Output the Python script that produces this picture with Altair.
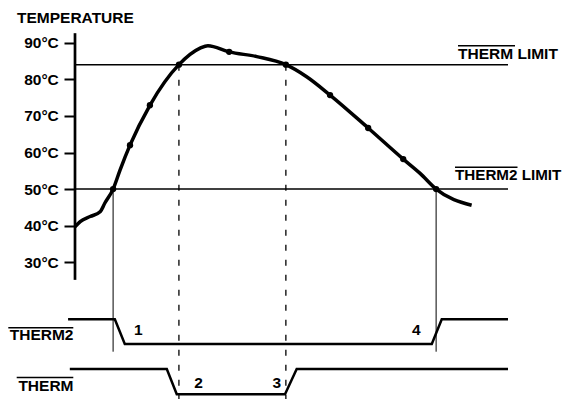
import altair as alt
import pandas as pd

FONT = "Liberation Sans"

# ---------------- data ----------------
# temperature curve: time (arbitrary units, 0..100) and temperature (°C)
curve_t    = [0.0, 1.2, 3.5, 5.8, 6.9, 8.8, 10.4, 12.7, 17.3, 24.0, 28.9, 30.7, 35.6, 42.0, 48.7, 53.5, 58.9, 67.7, 75.8, 79.7, 83.4, 91.6]
curve_temp = [39.7, 41.1, 42.5, 43.8, 46.2, 50.0, 55.2, 62.0, 72.9, 84.0, 88.5, 89.2, 87.5, 86.2, 84.0, 80.7, 75.7, 66.7, 58.2, 54.3, 50.0, 45.6]
# sample points (dots on the curve)
sample_t    = [8.8, 12.7, 17.3, 24.0, 35.6, 48.7, 58.9, 67.7, 75.8, 83.4]
sample_temp = [50.0, 62.0, 72.9, 84.0, 87.5, 84.0, 75.7, 66.7, 58.2, 50.0]
# limits
limit_names = ["THERM", "THERM2"]
limit_temp  = [84, 50]
therm_cross_t  = [24.0, 48.7]   # curve crosses THERM limit
therm2_cross_t = [8.8, 83.4]    # curve crosses THERM2 limit
# digital outputs (1 = high, 0 = low)
therm2_t     = [-1.6, 9.2, 11.5, 82.4, 84.7, 100]
therm2_level = [1, 1, 0, 0, 1, 1]
therm_t      = [-1.2, 21.2, 23.5, 48.5, 51.2, 100]
therm_level  = [1, 1, 0, 0, 1, 1]
# axis
temp_ticks = [30, 40, 50, 60, 70, 80, 90]
axis_extent = [25.2, 92.6]
time_extent = [0, 100]

# ---------------- scales ----------------
W, H = 555, 391
xscale = alt.Scale(domain=time_extent, range=[67, 500])
yscale = alt.Scale(domain=[30, 90], range=[254.3, 34.7])
yaxis = alt.Axis(values=temp_ticks, labelExpr="datum.value + '°C'", offset=-67,
                 domain=False, grid=False, ticks=True, tickSize=11, tickWidth=2,
                 tickColor="black", labelFont=FONT, labelFontSize=15.5,
                 labelFontWeight="bold", labelColor="black", labelPadding=5.7,
                 title=None)

def X(field):
    return alt.X(field, type="quantitative", scale=xscale, axis=None)

def Y(field):
    return alt.Y(field, type="quantitative", scale=yscale, axis=yaxis)

one = pd.DataFrame({"k": [0]})

curve_df = pd.DataFrame({"t": curve_t, "temp": curve_temp})
sample_df = pd.DataFrame({"t": sample_t, "temp": sample_temp})
limit_df = pd.DataFrame({"name": limit_names, "temp": limit_temp,
                         "t0": [time_extent[0]] * 2, "t1": [time_extent[1]] * 2})
dash_df = pd.DataFrame({"t": therm_cross_t, "temp": [limit_temp[0]] * 2})
thin_df = pd.DataFrame({"t": therm2_cross_t, "temp": [limit_temp[1]] * 2})
axis_df = pd.DataFrame({"t": [0], "lo": [axis_extent[0]], "hi": [axis_extent[1]]})

axis_line = alt.Chart(axis_df).mark_rule(color="black", strokeWidth=2.7).encode(
    x=X("t"), y=Y("lo"), y2="hi")

limits = alt.Chart(limit_df).mark_rule(color="black", strokeWidth=1.5).encode(
    x=X("t0"), x2="t1", y=Y("temp"))

dashes = alt.Chart(dash_df).mark_rule(color="black", strokeWidth=1.3, strokeDash=[6, 9]).encode(
    x=X("t"), y=Y("temp"), y2=alt.value(H))

thins = alt.Chart(thin_df).mark_rule(color="black", strokeWidth=1).encode(
    x=X("t"), y=Y("temp"), y2=alt.value(343.7))

curve = alt.Chart(curve_df).mark_line(color="black", strokeWidth=3.5, interpolate="monotone").encode(
    x=X("t"), y=Y("temp"))

dots = alt.Chart(sample_df).mark_point(filled=True, color="black", size=40, opacity=1).encode(
    x=X("t"), y=Y("temp"))

temp_layer = alt.layer(axis_line, limits, dashes, thins, curve, dots)

d2 = alt.Chart(pd.DataFrame({"t": therm2_t, "level": therm2_level})).mark_line(
    color="black", strokeWidth=2.5).encode(
    x=X("t"), y=alt.Y("level:Q", scale=alt.Scale(domain=[0, 1], range=[336, 311.3]), axis=None))

d1 = alt.Chart(pd.DataFrame({"t": therm_t, "level": therm_level})).mark_line(
    color="black", strokeWidth=2.5).encode(
    x=X("t"), y=alt.Y("level:Q", scale=alt.Scale(domain=[0, 1], range=[386.3, 361]), axis=None))


def txt(label, x, y, align="left", size=15.5):
    return alt.Chart(pd.DataFrame({"label": [label]})).mark_text(
        font=FONT, fontWeight="bold", fontSize=size, align=align,
        baseline="alphabetic", color="black").encode(
        x=alt.value(x), y=alt.value(y), text="label:N")


def overline(x1, x2, y):
    return alt.Chart(one).mark_rule(color="black", strokeWidth=1.6).encode(
        x=alt.value(x1), x2=alt.value(x2), y=alt.value(y))


labels = [
    txt("TEMPERATURE", 9, 14.7),
    txt("THERM LIMIT", 450, 51.3),
    overline(450, 507, 37.7),
    txt("THERM2 LIMIT", 447, 172, size=15.2),
    overline(447, 509.5, 159.3),
    txt("THERM2", 65.5, 332, align="right"),
    overline(0.3, 65.3, 319.7),
    txt("THERM", 65.5, 383, align="right"),
    overline(8.7, 65.3, 369.5),
    txt("1", 130.3, 327, align="center"),
    txt("2", 190.5, 380.3, align="center"),
    txt("3", 268.8, 380.3, align="center"),
    txt("4", 408.2, 327, align="center"),
]

chart = alt.layer(temp_layer, d2, d1, *labels).resolve_scale(y="independent").properties(
    width=W, height=H, padding=0, autosize=alt.AutoSizeParams(type="none"),
    background="white").configure_view(stroke=None)

chart.save("out.html", embed_options={"renderer": "svg", "actions": False})
